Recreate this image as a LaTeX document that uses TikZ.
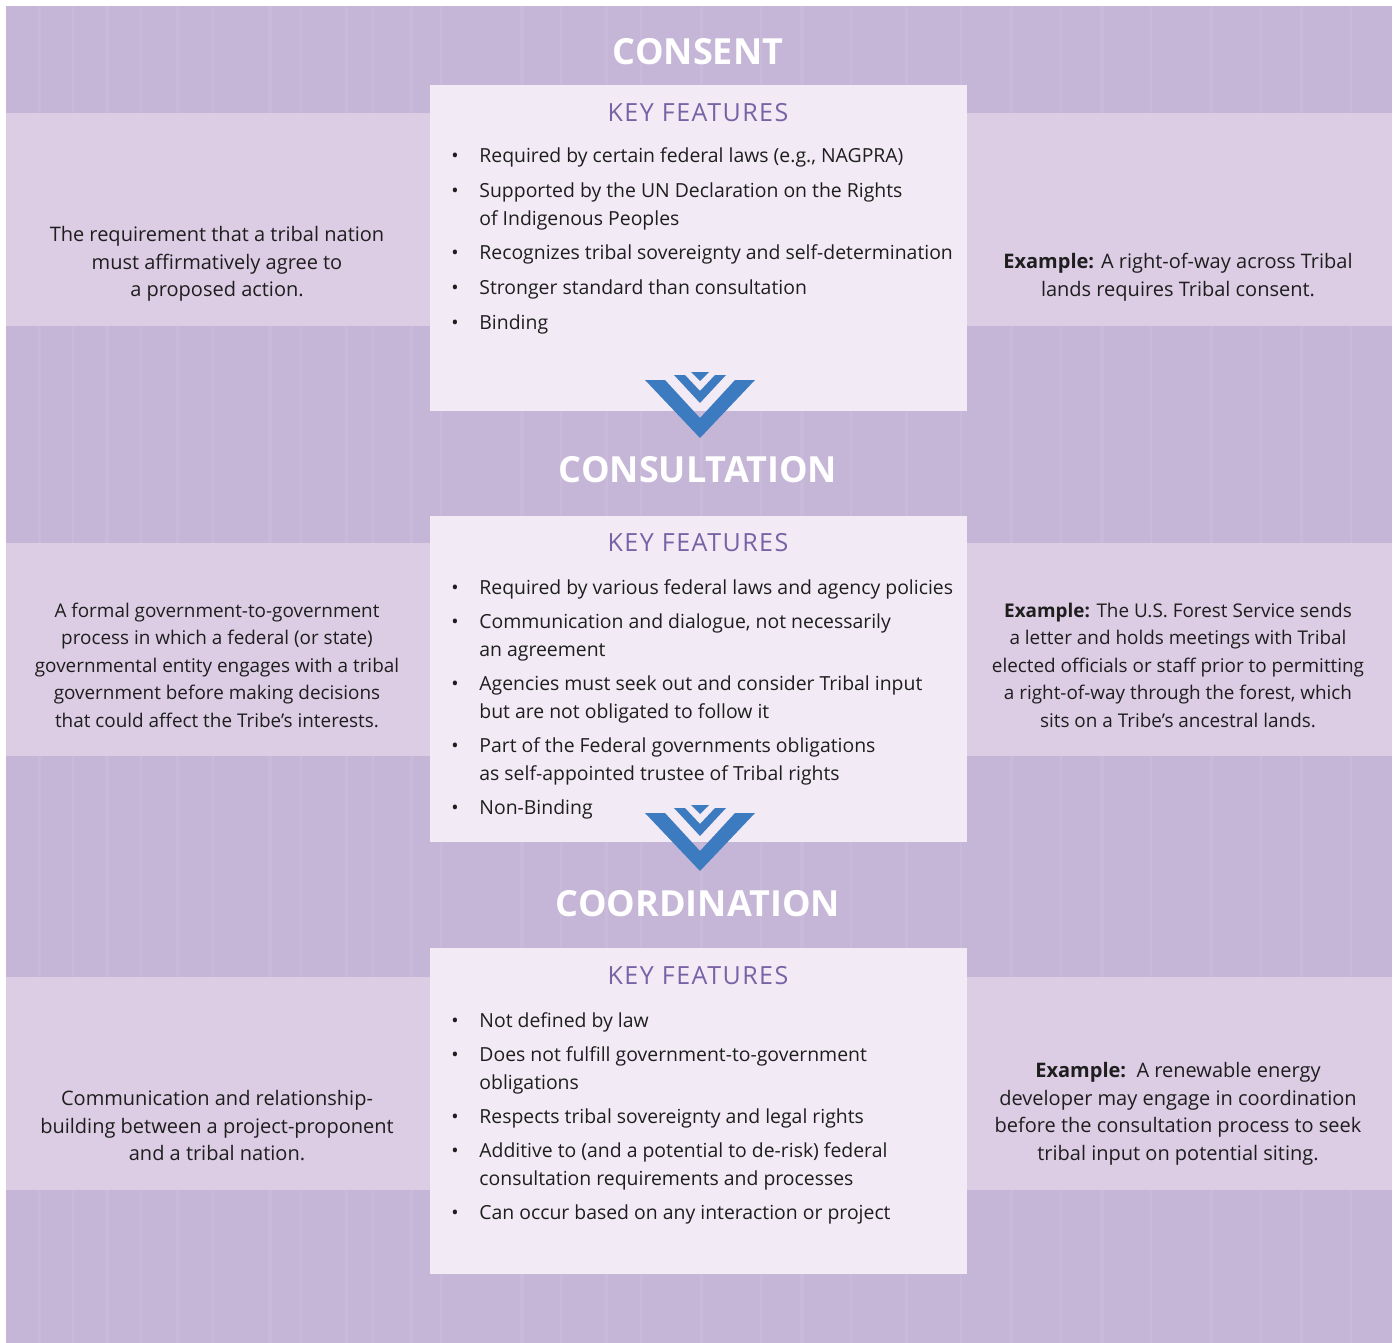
\documentclass[tikz,border=0pt]{standalone}
\usepackage{fontspec}
\setmainfont{Open Sans}
\usetikzlibrary{positioning}

\definecolor{bgpurple}{HTML}{C5B5D7}
\definecolor{bandlilac}{HTML}{DCCDE5}
\definecolor{boxwhite}{HTML}{F2EBF5}
\definecolor{keypurple}{HTML}{7762A5}
\definecolor{chevblue}{HTML}{3D7BC1}
\definecolor{bodyink}{HTML}{1E1E1E}

\tikzset{
  title/.style={text=white, font=\fontsize{18}{20}\selectfont\bfseries, inner sep=0pt},
  keyhead/.style={text=keypurple, font=\fontsize{12.5}{14}\selectfont\addfontfeatures{LetterSpace=6}, inner sep=0pt},
  feat/.style={text=bodyink, font=\fontsize{9.7}{14}\selectfont, anchor=mid west, inner sep=0pt, yshift=-1pt},
  dot/.style={text=bodyink, font=\fontsize{9.7}{14}\selectfont, anchor=mid, inner sep=0pt, yshift=-1pt},
  side/.style={text=bodyink, font=\fontsize{10}{13.75}\selectfont, align=center, inner sep=0pt},
  sidetight/.style={side, font=\fontsize{9.45}{13.75}\selectfont},
}

\begin{document}
\begin{tikzpicture}[x=0.5pt,y=-0.5pt]
	\useasboundingbox (0,0) rectangle (1397,1343);
	\fill[white] (0,0) rectangle (1397,1343);
	\fill[bgpurple] (6,6) rectangle (1392,1343);

	% faint streaks in the background
	\foreach \x/\w in {38/3,72/2,105/4,140/2,176/3,212/2,268/4,300/2,345/3,372/2,410/3,440/2,520/4,560/2,605/3,640/2,700/3,760/2,800/4,850/2,905/3,960/2,1010/3,1060/2,1100/4,1150/2,1210/3,1260/2,1300/3,1350/2}{
	  \fill[white, opacity=0.08] (\x,6) rectangle ++(\w,1337);
	}

	% light bands and white boxes
	\foreach \y in {113,543,977}{
	  \fill[bandlilac] (6,\y) rectangle (1392,\y+213);
	}
	\foreach \y in {85,516,948}{
	  \fill[boxwhite] (430,\y) rectangle (967,\y+326);
	}

	% chevrons
	\foreach \dy in {0,433}{
	  \begin{scope}[shift={(0,\dy)}]
	    \fill[chevblue] (645,380) -- (665,380) -- (700,418) -- (735,380) -- (755,380) -- (700,438) -- cycle;
	    \fill[chevblue] (674,375) -- (685,375) -- (700,391) -- (715,375) -- (726,375) -- (700,403) -- cycle;
	    \fill[chevblue] (691,372) -- (709,372) -- (700,381) -- cycle;
	  \end{scope}
	}

	% headings
	\node[title] (consent) at (698,52) {CONSENT};
	\node[title] (consult) at (698,470) {CONSULTATION};
	\node[title] (coord) at (698,904) {COORDINATION};

	\node[keyhead] (key1) at (698,113) {KEY FEATURES};
	\node[keyhead] (key2) at (698,543) {KEY FEATURES};
	\node[keyhead] (key3) at (698,976) {KEY FEATURES};

	% consent features
	\foreach \y [count=\i] in {155,190,252,287,322}
	  \node[dot] (d1-\i) at (455,\y) {\textbullet};
	\foreach \y/\t [count=\i] in {155/{Required by certain federal laws (e.g., NAGPRA)},
	    190/{Supported by the UN Declaration on the Rights},
	    218/{of Indigenous Peoples},
	    252/{Recognizes tribal sovereignty and self-determination},
	    287/{Stronger standard than consultation},
	    322/{Binding}}
	  \node[feat] (f1-\i) at (479,\y) {\t};

	% consultation features
	\foreach \y [count=\i] in {587,621,683,745,807}
	  \node[dot] (d2-\i) at (455,\y) {\textbullet};
	\foreach \y/\t [count=\i] in {587/{Required by various federal laws and agency policies},
	    621/{Communication and dialogue, not necessarily},
	    649/{an agreement},
	    683/{Agencies must seek out and consider Tribal input},
	    711/{but are not obligated to follow it},
	    745/{Part of the Federal governments obligations},
	    773/{as self-appointed trustee of Tribal rights},
	    807/{Non-Binding}}
	  \node[feat] (f2-\i) at (479,\y) {\t};

	% coordination features
	\foreach \y [count=\i] in {1020,1054,1116,1150,1212}
	  \node[dot] (d3-\i) at (455,\y) {\textbullet};
	\foreach \y/\t [count=\i] in {1020/{Not defined by law},
	    1054/{Does not fulfill government-to-government},
	    1082/{obligations},
	    1116/{Respects tribal sovereignty and legal rights},
	    1150/{Additive to (and a potential to de-risk) federal},
	    1178/{consultation requirements and processes},
	    1212/{Can occur based on any interaction or project}}
	  \node[feat] (f3-\i) at (479,\y) {\t};

	% definitions, left
	\node[side] (def1) at (217,264) {The requirement that a tribal nation\\must affirmatively agree to\\a proposed action.};
	\node[sidetight] (def2) at (217,665) {A formal government-to-government\\process in which a federal (or state)\\governmental entity engages with a tribal\\government before making decisions\\that could affect the Tribe’s interests.};
	\node[side] (def3) at (217,1126) {Communication and relationship-\\building between a project-proponent\\and a tribal nation.};

	% examples, right
	\node[side] (ex1) at (1178,277) {\textbf{Example:} A right-of-way across Tribal\\lands requires Tribal consent.};
	\node[sidetight] (ex2) at (1178,665) {\textbf{Example:} The U.S. Forest Service sends\\a letter and holds meetings with Tribal\\elected officials or staff prior to permitting\\a right-of-way through the forest, which\\sits on a Tribe’s ancestral lands.};
	\node[side] (ex3) at (1178,1114) {\textbf{Example:}\ \ A renewable energy\\developer may engage in coordination\\before the consultation process to seek\\tribal input on potential siting.};
\end{tikzpicture}
\end{document}
